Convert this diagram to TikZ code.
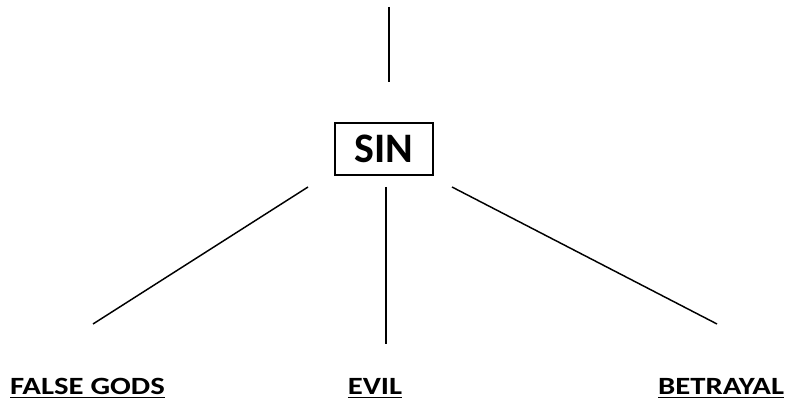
\documentclass[tikz,border=0pt]{standalone}
\usepackage{fontspec}
\usepackage{graphicx}
\setmainfont{Carlito}
\newcommand{\widelbl}[1]{\scalebox{1.24}[1]{\underline{#1}}}
\begin{document}
\begin{tikzpicture}[x=0.75pt,y=-0.75pt,
  conn/.style={line width=1.1pt},
  boxnode/.style={draw,line width=1.1pt,minimum width=73.5pt,minimum height=39pt,inner sep=0pt,
    font=\fontsize{31.5}{32}\selectfont\bfseries},
  lbl/.style={anchor=base,inner sep=0pt,font=\fontsize{18.6}{20}\selectfont\bfseries}]
\useasboundingbox (0,0) rectangle (786,402);
% top line
\coordinate (top1) at (389,7);
\coordinate (top2) at (389,82);
\draw[conn] (top1) -- (top2);
% SIN box
\node[boxnode] (sin) at (384,149) {SIN};
% line ends
\coordinate (l1) at (308,187);
\coordinate (l2) at (93,324);
\coordinate (m1) at (386,187);
\coordinate (m2) at (386,344);
\coordinate (r1) at (452,187);
\coordinate (r2) at (717,324);
\draw[conn] (l1) -- (l2);
\draw[conn] (m1) -- (m2);
\draw[conn] (r1) -- (r2);
% labels
\node[lbl] (fg) at (87.5,395) {\widelbl{FALSE GODS}};
\node[lbl] (ev) at (375,395) {\widelbl{EVIL}};
\node[lbl] (bt) at (721,395) {\widelbl{BETRAYAL}};
\end{tikzpicture}
\end{document}
